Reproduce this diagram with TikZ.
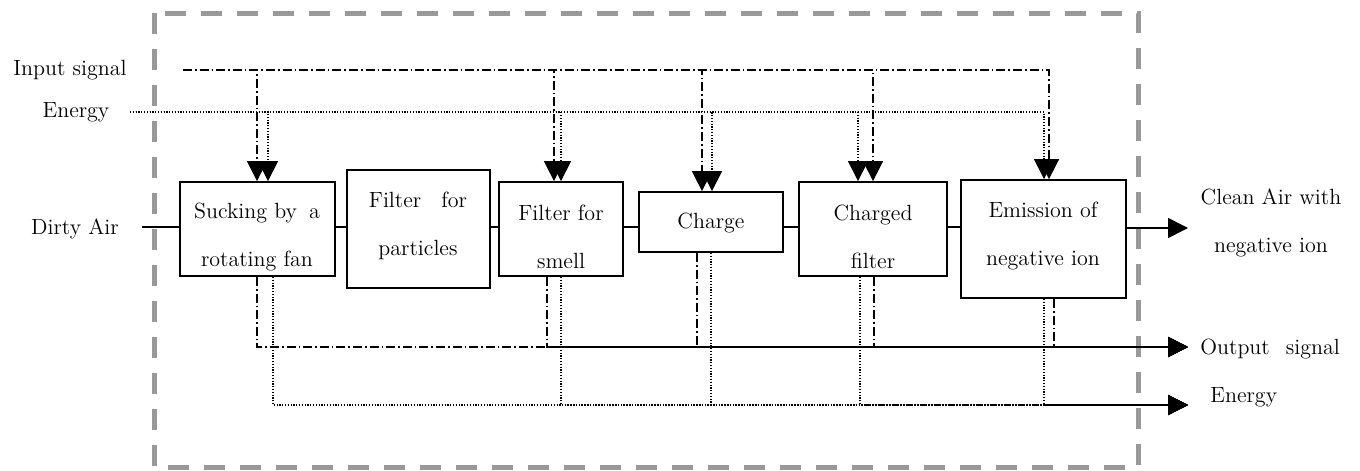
\documentclass[tikz,border=0pt]{standalone}
\usetikzlibrary{arrows.meta}
\begin{document}
\begin{tikzpicture}[x=0.5pt,y=-0.5pt,
  box/.style={draw, line width=0.9pt, inner sep=0pt},
  lbl/.style={font=\fontsize{11}{24}\selectfont, align=center, inner sep=0pt},
  conn/.style={line width=0.8pt},
  sig/.style={line width=0.8pt, dash pattern=on 4.5pt off 1.5pt on 0.8pt off 1.5pt},
  enr/.style={line width=0.6pt, dash pattern=on 0.6pt off 0.8pt},
  tip/.style={-{Triangle[length=10pt,width=10pt]}},
  frame/.style={draw=black!40, line width=2.5pt, dash pattern=on 10.5pt off 7.5pt}]
\useasboundingbox (0,0) rectangle (1360,471);
% system border
\draw[frame] (154,13) rectangle (1138,467);
% boxes
\node[box, minimum width=77.5pt, minimum height=47pt] (b1) at (257.5,229) {};
\node[box, minimum width=71.5pt, minimum height=59pt] (b2) at (418.5,229) {};
\node[box, minimum width=62pt, minimum height=47pt] (b3) at (561,229) {};
\node[box, minimum width=72pt, minimum height=30pt] (b4) at (711,222) {};
\node[box, minimum width=74pt, minimum height=47pt] (b5) at (873,229) {};
\node[box, minimum width=82.5pt, minimum height=59pt] (b6) at (1043.5,239) {};
% box texts
\node[lbl] (t1) at (257,237) {Sucking by\hspace{6pt}a\\rotating fan};
\node[lbl] (t2) at (418,226) {Filter\hspace{10pt}for\\particles};
\node[lbl] (t3) at (561,237) {Filter for\\smell};
\node[lbl] (t4) at (711,223) {Charge};
\node[lbl] (t5) at (873,237) {Charged\\filter};
\node[lbl] (t6) at (1043,236) {Emission of\\negative ion};
% outside labels
\node[lbl] (dirty) at (75,229) {Dirty Air};
\node[lbl] (insig) at (70,70) {Input signal};
\node[lbl] (entop) at (76,112) {Energy};
\node[lbl] (clean) at (1271,223) {Clean Air with\\negative ion};
\node[lbl, anchor=west] (outsig) at (1200,349) {Output\hspace{8pt}signal};
\node[lbl, anchor=west] (enbot) at (1210,397) {Energy};
% coordinates
\coordinate (m) at (0,227);
\coordinate (din) at (142,227);
\coordinate (cout) at (1188,228);
\coordinate (insrc) at (183,70);
\coordinate (esrc) at (130,112);
\coordinate (outend) at (1188,347);
\coordinate (eend) at (1188,405);
% air flow
\draw[conn] (din) -- (din -| b1.west);
\draw[conn] (b1.east |- m) -- (b2.west |- m);
\draw[conn] (b2.east |- m) -- (b3.west |- m);
\draw[conn] (b3.east |- m) -- (b4.west |- m);
\draw[conn] (b4.east |- m) -- (b5.west |- m);
\draw[conn] (b5.east |- m) -- (b6.west |- m);
\draw[conn,tip] (b6.east |- cout) -- (cout);
% input signal
\draw[sig,tip] (insrc) -| (257,0 |- b1.north);
\draw[sig,tip] (insrc) -| (554,0 |- b3.north);
\draw[sig,tip] (insrc) -| (702,0 |- b4.north);
\draw[sig,tip] (insrc) -| (873,0 |- b5.north);
\draw[sig,tip] (insrc) -| (1049,0 |- b6.north);
% energy in
\draw[enr,tip] (esrc) -| (268,0 |- b1.north);
\draw[enr,tip] (esrc) -| (561,0 |- b3.north);
\draw[enr,tip] (esrc) -| (712,0 |- b4.north);
\draw[enr,tip] (esrc) -| (858,0 |- b5.north);
\draw[enr,tip] (esrc) -| (1044,0 |- b6.north);
% output signal
\draw[sig,tip] (257,0 |- b1.south) |- (outend);
\draw[sig,tip] (547,0 |- b3.south) |- (outend);
\draw[sig,tip] (697,0 |- b4.south) |- (outend);
\draw[sig,tip] (874,0 |- b5.south) |- (outend);
\draw[sig,tip] (1054,0 |- b6.south) |- (outend);
% energy out
\draw[enr,tip] (273,0 |- b1.south) |- (eend);
\draw[enr,tip] (561,0 |- b3.south) |- (eend);
\draw[enr,tip] (711,0 |- b4.south) |- (eend);
\draw[enr,tip] (860,0 |- b5.south) |- (eend);
\draw[enr,tip] (1044,0 |- b6.south) |- (eend);
\end{tikzpicture}
\end{document}
